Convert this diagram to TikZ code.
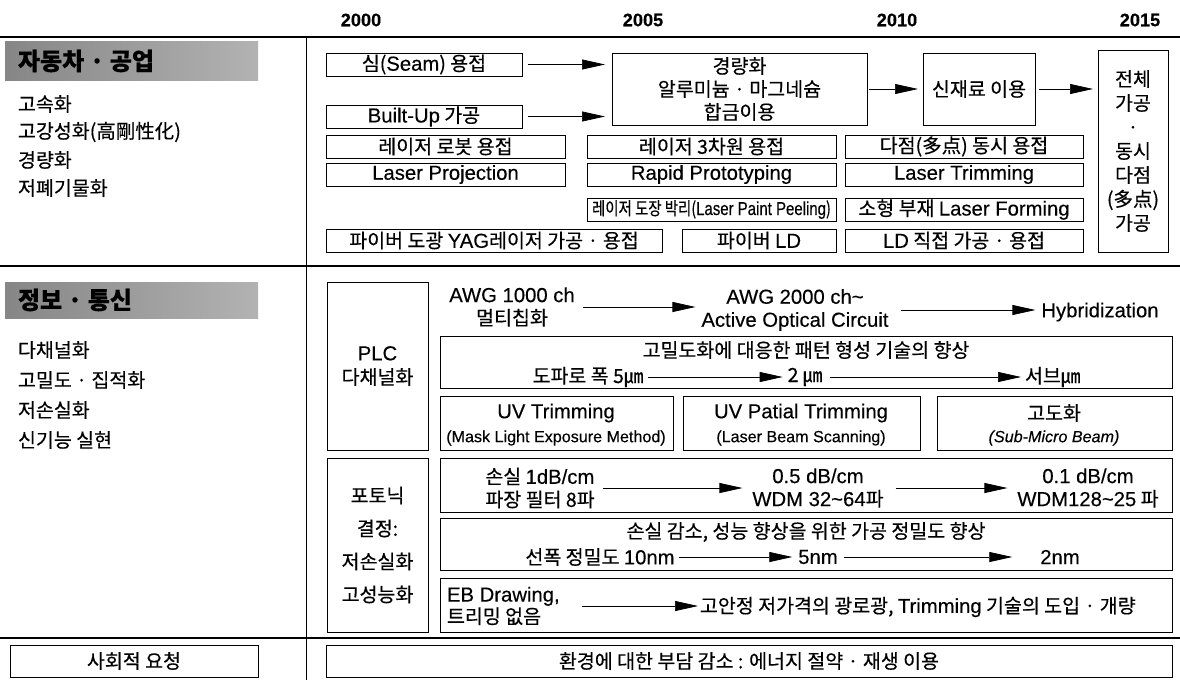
\documentclass[tikz,border=0pt]{standalone}
\usepackage{fontspec}
\usepackage{graphicx}
\setmainfont[FakeBold=0.4]{Noto Sans CJK KR}
\newfontfamily\lat[Scale=1.04,FakeBold=0.3]{Liberation Sans}
\usetikzlibrary{arrows.meta}
\newcommand\fs[2]{\fontsize{#1}{#2}\selectfont}
\newcommand\en[1]{{\lat #1}}
\newcommand\bx[6][]{\node[box,minimum width={#5-#3},minimum height={#6-#4},#1] (#2) at ({(#3+#5)/2},{(#4+#6)/2})}
\begin{document}
\begin{tikzpicture}[x=1pt,y=-1pt,
  every node/.style={inner sep=0pt,outer sep=0pt,font=\fs{19.5}{23}},
  box/.style={draw,line width=0.8pt,align=center},
  arr/.style={line width=0.7pt,-{Triangle[length=23pt,width=10pt]}},
  sep/.style={line width=1.5pt},
  yr/.style={font=\lat\bfseries\fs{17.5}{20}},
  hdr/.style={draw=none,left color=gray!95,right color=gray!60},
  hdrt/.style={anchor=west,font=\bfseries\fs{24}{26}},
  lst/.style={anchor=west},
  sub/.style={font=\lat\fs{15.5}{18}},
]
\useasboundingbox (0,0) rectangle (1180,680);
% years
\node[yr] (y0) at (361,20) {2000};
\node[yr] (y5) at (643,20) {2005};
\node[yr] (y10) at (897,20) {2010};
\node[yr] (y15) at (1140,20) {2015};
% frame lines
\coordinate (t0) at (0,37); \coordinate (t1) at (1180,37);
\coordinate (m0) at (0,266); \coordinate (m1) at (1180,266);
\coordinate (b0) at (0,638); \coordinate (b1) at (1180,638);
\coordinate (v0) at (306,37); \coordinate (v1) at (306,680);
\draw[sep] (t0)--(t1);
\draw[sep] (m0)--(m1);
\draw[sep] (b0)--(b1);
\draw[line width=0.8pt] (v0)--(v1);
% automotive
\bx[hdr]{h1}{5}{41}{258}{80} {};
\node[hdrt] (h1t) at (18,61) {자동차 · 공업};
\node[lst] (a1) at (18,104) {고속화};
\node[lst] (a2) at (18,132) {고강성화(高剛性化)};
\node[lst] (a3) at (18,160) {경량화};
\node[lst] (a4) at (18,188) {저폐기물화};
\bx{seam}{326}{53}{522}{76} {심(\en{Seam}) 용접};
\bx{built}{326}{105}{522}{128} {\en{Built-Up} 가공};
\bx[font=\fs{19.5}{23}]{light}{612}{53}{867}{125} {경량화\\알루미늄 · 마그네슘\\합금이용};
\bx{newm}{923}{53}{1035}{125} {신재료 이용};
\bx[font=\fs{19.5}{24}]{whole}{1098}{50}{1168}{252} {전체\\가공\\·\\동시\\다점\\(多点)\\가공};
\bx{robot}{326}{135}{565}{158} {레이저 로봇 용접};
\bx{tri}{587}{135}{836}{158} {레이저 3차원 용접};
\bx{multi}{845}{135}{1083}{158} {다점(多点) 동시 용접};
\bx{proj}{326}{163}{565}{186} {\en{Laser Projection}};
\bx{rapid}{587}{163}{836}{186} {\en{Rapid Prototyping}};
\bx{ltrim}{845}{163}{1083}{186} {\en{Laser Trimming}};
\bx[font=\fs{18}{20}]{peel}{587}{198}{836}{221} {\scalebox{0.8}[1]{레이저 도장 박리(\en{Laser Paint Peeling})}};
\bx{form}{845}{198}{1083}{221} {소형 부재 \en{Laser Forming}};
\bx{fiber}{326}{229}{662}{252} {파이버 도광 \en{YAG}레이저 가공 · 용접};
\bx{fld}{682}{229}{836}{252} {파이버 \en{LD}};
\bx{ldd}{845}{229}{1083}{252} {\en{LD} 직접 가공 · 용접};
\draw[arr,shorten <=6pt,shorten >=7pt] (seam.east) -- (seam.east -| light.west);
\draw[arr,shorten <=6pt,shorten >=7pt] (built.east) -- (built.east -| light.west);
\draw[arr,shorten <=2pt,shorten >=5pt] (light) -- (newm);
\draw[arr,shorten <=4pt,shorten >=5pt] (newm.east) -- (newm.east -| whole.west);
% info
\bx[hdr]{h2}{5}{282}{258}{318} {};
\node[hdrt] (h2t) at (18,300) {정보 · 통신};
\node[lst] (c1) at (18,350) {다채널화};
\node[lst] (c2) at (18,380) {고밀도 · 집적화};
\node[lst] (c3) at (18,410) {저손실화};
\node[lst] (c4) at (18,440) {신기능 실현};
\bx[font=\fs{19.5}{24}]{plc}{327}{282}{428}{450} {\en{PLC}\\다채널화};
\node[align=center] (awg1) at (512,307) {\en{AWG 1000 ch}\\멀티칩화};
\node[align=center] (awg2) at (795,310) {\en{AWG 2000 ch\textasciitilde}\\\en{Active Optical Circuit}};
\node (hyb) at (1100,312) {\en{Hybridization}};
\draw[arr,shorten <=8pt,shorten >=6pt] (awg1.east) -- (awg1.east -| awg2.west);
\draw[arr,shorten <=12pt,shorten >=6pt] (awg2.east) -- (awg2.east -| hyb.west);
\bx{dens}{440}{336}{1172}{388} {};
\node (denst) at (806,350) {고밀도화에 대응한 패턴 형성 기술의 향상};
\node (d1) at (588,377) {도파로 폭 5㎛};
\node (d2) at (805,377) {2 ㎛};
\node[anchor=west] (d3) at (1025,377) {서브㎛};
\draw[arr,shorten <=5pt,shorten >=5pt] (d1) -- (d2);
\draw[arr,shorten <=8pt,shorten >=4pt] (d2) -- (d3);
\bx{uv1}{440}{396}{673}{450} {};
\node (uv1t) at (556,413) {\en{UV Trimming}};
\node[sub] (uv1s) at (556,438) {(Mask Light Exposure Method)};
\bx{uv2}{683}{396}{920}{450} {};
\node (uv2t) at (801,413) {\en{UV Patial Trimming}};
\node[sub] (uv2s) at (801,438) {(Laser Beam Scanning)};
\bx{uv3}{937}{396}{1172}{450} {};
\node (uv3t) at (1054,413) {고도화};
\node[sub,font=\lat\itshape\fs{15.5}{18}] (uv3s) at (1054,438) {(Sub-Micro Beam)};
\bx[font=\fs{19.5}{33}]{phot}{327}{458}{428}{632} {포토닉\\결정:\\저손실화\\고성능화};
\bx{loss}{440}{458}{1172}{512} {};
\node[align=left,font=\fs{19.5}{23}] (lo1) at (540,488) {손실 \en{1dB/cm}\\파장 필터 8파};
\node[align=center,font=\fs{19.5}{23}] (lo2) at (818,488) {\en{0.5 dB/cm}\\\en{WDM 32\textasciitilde64}파};
\node[align=center,font=\fs{19.5}{23}] (lo3) at (1088,488) {\en{0.1 dB/cm}\\\en{WDM128\textasciitilde25} 파};
\draw[arr,shorten <=8pt,shorten >=10pt] (lo1) -- (lo2);
\draw[arr,shorten <=12pt,shorten >=10pt] (lo2) -- (lo3);
\bx{prec}{440}{518}{1172}{570} {};
\node (prect) at (806,532) {손실 감소, 성능 향상을 위한 가공 정밀도 향상};
\node (p1) at (600,557) {선폭 정밀도 \en{10nm}};
\node (p2) at (818,557) {\en{5nm}};
\node (p3) at (1060,557) {\en{2nm}};
\draw[arr,shorten <=4pt,shorten >=6pt] (p1) -- (p2);
\draw[arr,shorten <=6pt,shorten >=28pt] (p2) -- (p3);
\bx{eb}{440}{578}{1172}{632} {};
\node[align=left,anchor=west,font=\fs{19.5}{22}] (e1) at (447,606) {\en{EB Drawing,}\\트리밍 없음};
\node[anchor=west] (e2) at (700,607) {고안정 저가격의 광로광, \en{Trimming} 기술의 도입 · 개량};
\draw[arr,shorten <=22pt,shorten >=2pt] (e1.east) -- (e1.east -| e2.west);
% bottom
\bx{soc}{10}{645}{258}{677} {사회적 요청};
\bx{env}{326}{645}{1172}{677} {환경에 대한 부담 감소 : 에너지 절약 · 재생 이용};
\end{tikzpicture}
\end{document}
